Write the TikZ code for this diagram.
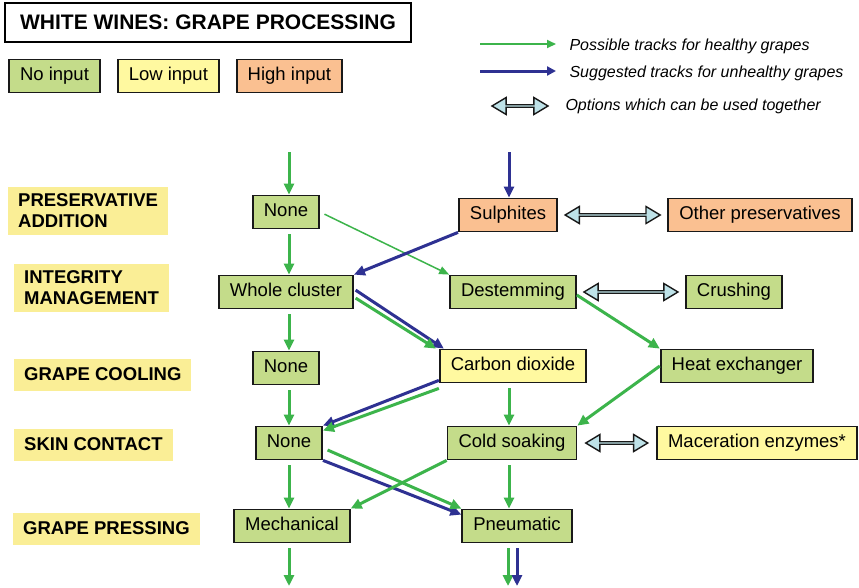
\documentclass[tikz,border=0pt]{standalone}
\usepackage{fontspec}
\setmainfont{Liberation Sans}
\usetikzlibrary{arrows.meta,positioning,shapes.arrows}

\definecolor{nogreen}{RGB}{196,220,138}
\definecolor{lowyellow}{RGB}{255,249,160}
\definecolor{stageyellow}{RGB}{250,238,150}
\definecolor{highorange}{RGB}{250,192,145}
\definecolor{trackgreen}{RGB}{60,180,75}
\definecolor{trackblue}{RGB}{46,49,146}
\definecolor{optcyan}{RGB}{190,226,232}

\begin{document}
\begin{tikzpicture}[x=1pt,y=-1pt,
		choice/.style={rectangle,draw=black!90,line width=1.8pt,minimum height=33pt,
			inner xsep=11pt,inner ysep=0pt,text height=13pt,text depth=4pt,
			font=\fontsize{18.5}{21}\selectfont},
		noinput/.style={choice,fill=nogreen},
		lowinput/.style={choice,fill=lowyellow},
		highinput/.style={choice,fill=highorange},
		stage/.style={fill=stageyellow,anchor=west,align=left,inner xsep=10pt,inner ysep=7pt,
			minimum height=32pt,font=\bfseries\fontsize{18.5}{21}\selectfont},
		healthy/.style={-{Triangle[length=11pt,width=10pt]},color=trackgreen,line width=3pt,shorten <=5pt},
		unhealthy/.style={-{Triangle[length=11pt,width=10pt]},color=trackblue,line width=3pt,shorten <=5pt},
		optarrow/.style={double arrow,draw=black!90,fill=optcyan,line width=1.4pt,minimum width=17pt,
			double arrow head extend=4pt,double arrow tip angle=62,inner sep=0pt},
		keytext/.style={anchor=west,font=\itshape\fontsize{16}{18}\selectfont}]

		\fill [white] (0,0) rectangle (859,587);
		\useasboundingbox (0,0) rectangle (859,587);

		% title and key
		\node [draw,line width=1.5pt,minimum width=406pt,minimum height=39pt,
			font=\bfseries\fontsize{21}{24}\selectfont] (title) at (208,22.5) {WHITE WINES: GRAPE PROCESSING};
		\node [noinput] (keyno) at (54.5,76) {No input};
		\node [lowinput] (keylow) [right=16pt of keyno] {Low input};
		\node [highinput] (keyhigh) [right=16pt of keylow] {High input};

		\coordinate (hfrom) at (480,44);
		\coordinate (hto) at (556,44);
		\coordinate (ufrom) at (480,71);
		\coordinate (uto) at (556,71);
		\draw [healthy,line width=2pt,shorten <=0pt,-{Triangle[length=9pt,width=8pt]}] (hfrom) -- (hto);
		\draw [unhealthy,shorten <=0pt,-{Triangle[length=9pt,width=9pt]}] (ufrom) -- (uto);
		\node [keytext] (hkey) at (566,46) {Possible tracks for healthy grapes};
		\node [keytext] (ukey) at (566,73) {Suggested tracks for unhealthy grapes};
		\node [optarrow,minimum height=56pt] (optkey) at (520,106) {};
		\node [keytext] (okey) at (562,106) {Options which can be used together};

		% stages
		\node [stage] (preserv) at (8,211) {PRESERVATIVE\\ADDITION};
		\node [stage] (integ) at (14,288) {INTEGRITY\\MANAGEMENT};
		\node [stage] (cooling) at (14,374.5) {GRAPE COOLING};
		\node [stage] (skin) at (14,444.5) {SKIN CONTACT};
		\node [stage] (pressing) at (13,528.5) {GRAPE PRESSING};

		% options
		\node [noinput] (none1) at (286,212) {None};
		\node [noinput] (whole) at (286,292) {Whole cluster};
		\node [noinput] (none2) at (286,368) {None};
		\node [noinput] (none3) at (289,443) {None};
		\node [noinput] (mech) at (292,526) {Mechanical};

		\node [highinput] (sulph) at (508,215) {Sulphites};
		\node [highinput] (otherpres) at (760,215) {Other preservatives};
		\node [noinput] (destem) at (513,292) {Destemming};
		\node [noinput] (crush) at (734,292) {Crushing};
		\node [lowinput] (co2) at (513,366) {Carbon dioxide};
		\node [noinput] (heatex) at (737,366) {Heat exchanger};
		\node [noinput] (cold) at (512,443) {Cold soaking};
		\node [lowinput] (macer) at (757,443) {Maceration enzymes*};
		\node [noinput] (pneu) at (517,526) {Pneumatic};

		% in and out
		\coordinate (in1) at (289,152);
		\coordinate (in2) at (509,152);
		\coordinate (out1) at (289,586);
		\coordinate (out2) at (508,586);
		\coordinate (out3) at (517,586);

		% vertical arrows
		\draw [healthy,shorten <=0pt] (in1) -- (in1 |- none1.north);
		\draw [unhealthy,shorten <=0pt] (in2) -- (in2 |- sulph.north);
		\draw [healthy] (in1 |- none1.south) -- (in1 |- whole.north);
		\draw [healthy] (in1 |- whole.south) -- (in1 |- none2.north);
		\draw [healthy] (in1 |- none2.south) -- (in1 |- none3.north);
		\draw [healthy] (in1 |- none3.south) -- (in1 |- mech.north);
		\draw [healthy] (in1 |- mech.south) -- (out1);
		\draw [healthy] (in2 |- co2.south) -- (in2 |- cold.north);
		\draw [healthy] (in2 |- cold.south) -- (in2 |- pneu.north);
		\draw [healthy] (out2 |- pneu.south) -- (out2);
		\draw [unhealthy] (out3 |- pneu.south) -- (out3);

		% crossing arrows
		\draw [healthy,line width=1.5pt,-{Triangle[length=10pt,width=8pt]}] (none1.east) -- (destem.north west);
		\draw [unhealthy,shorten <=0pt] (sulph.south west) -- (whole.north east);
		\draw [unhealthy,shorten <=2pt] ([yshift=3pt]whole.east) -- ([xshift=5pt]co2.north west);
		\draw [healthy,shorten <=2pt] ([yshift=-5pt]whole.east) -- ([xshift=-3pt]co2.north west);
		\draw [healthy,shorten <=0pt] ([yshift=-3pt]destem.east) -- (heatex.north west);
		\draw [healthy,shorten <=0pt] (heatex.west) -- (cold.north east);
		\draw [unhealthy,shorten <=0pt] ([yshift=3pt]co2.south west) -- (none3.north east);
		\draw [healthy,shorten <=0pt] ([yshift=-5pt]co2.south west) -- ([yshift=-5pt]none3.north east);
		\draw [unhealthy,shorten <=0pt] (none3.south east) -- ([yshift=-6pt]pneu.north west);
		\draw [healthy,shorten <=0pt] (cold.south west) -- (mech.north east);
		\draw [healthy] ([yshift=-5pt]none3.east) -- (pneu.north west);

		% options used together
		\path (sulph.east) -- node [optarrow,minimum height=95pt] (opt1) {} (otherpres.west);
		\path (destem.east) -- node [optarrow,minimum height=94pt] (opt2) {} (crush.west);
		\path (cold.east) -- node [optarrow,minimum height=62pt] (opt3) {} (macer.west);
	\end{tikzpicture}
\end{document}
